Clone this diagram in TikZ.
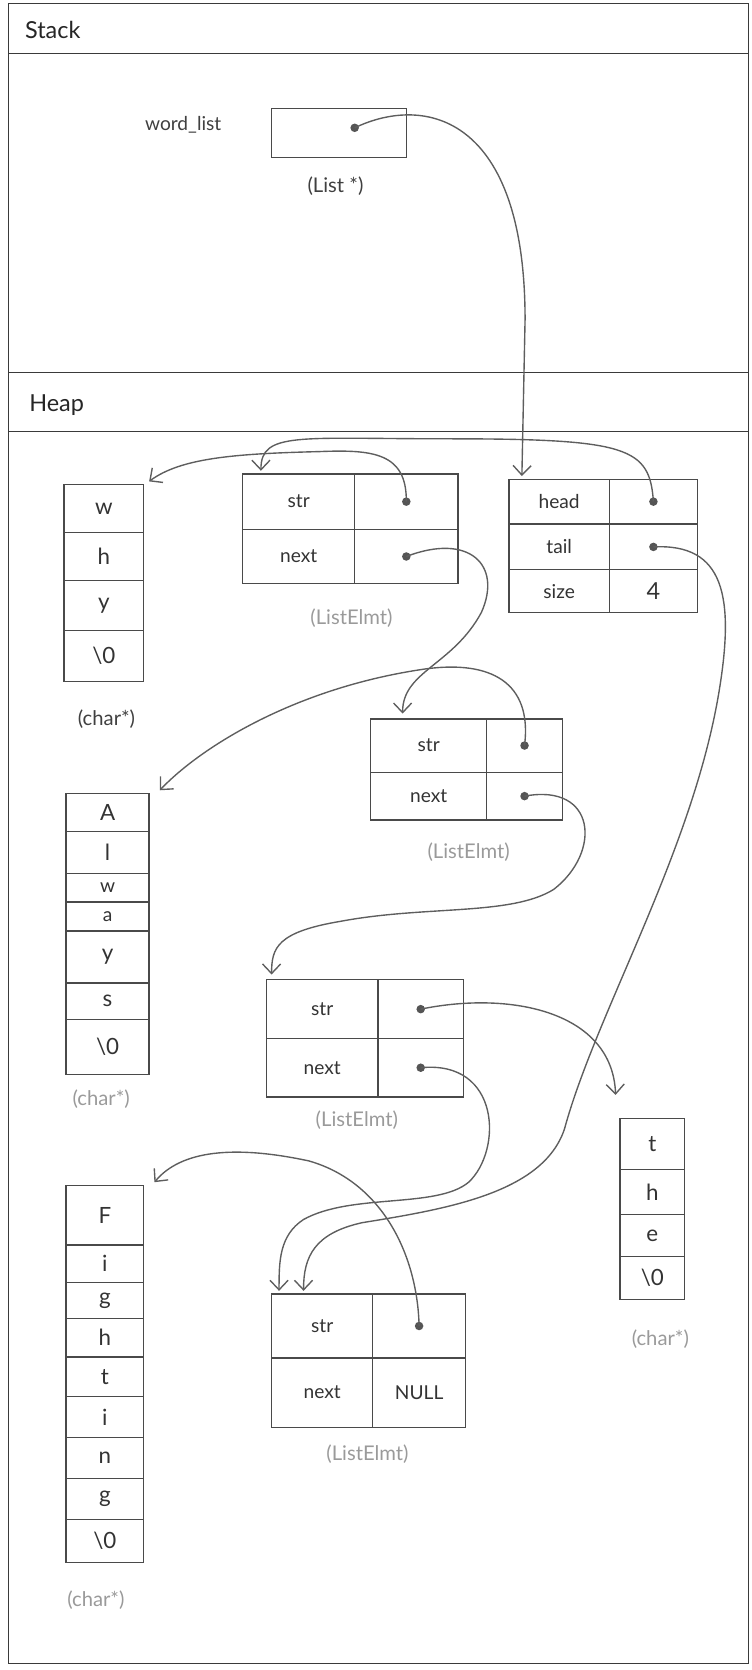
\documentclass[tikz,border=0pt]{standalone}
\usepackage{fontspec}
\setmainfont{Lato}
\usetikzlibrary{arrows.meta,calc}
\definecolor{linecol}{HTML}{4A4A4A}
\definecolor{framecol}{HTML}{3A3A3A}
\definecolor{arrcol}{HTML}{5E5E5E}
\definecolor{labcol}{HTML}{9A9A9A}
\definecolor{dotcol}{HTML}{555555}
\tikzset{
  frameline/.style={draw=framecol, line width=1.2pt},
  box/.style={draw=linecol, line width=1.2pt, inner sep=0pt, outer sep=0pt, anchor=north west,
    text=black!80, font=\fontsize{18}{20}\selectfont},
  chr/.style={box, font=\fontsize{21}{23}\selectfont},
  ptr/.style={draw=arrcol, line width=1.3pt, -{Straight Barb[length=9pt,width=17pt,line width=1.3pt]}},
  pdot/.style={circle, fill=dotcol, inner sep=0pt, minimum size=8pt},
  sec/.style={anchor=west, text=black!85, font=\fontsize{22}{24}\selectfont},
  vname/.style={text=black!75, font=\fontsize{18}{20}\selectfont},
  typ/.style={text=labcol, font=\fontsize{19}{21}\selectfont},
  typdark/.style={text=black!75, font=\fontsize{19}{21}\selectfont},
}
\begin{document}
\begin{tikzpicture}[x=1pt,y=-1pt]
\useasboundingbox (0,0) rectangle (706,1568);
% frame and sections
\draw[frameline] (8,3) rectangle (703,1562);
\draw[frameline] (8,50) -- (703,50);
\draw[frameline] (8,350) -- (703,350);
\draw[frameline] (8,405) -- (703,405);
\node[sec] (stk) at (20,28) {Stack};
\node[sec] (hp) at (24,380) {Heap};

% stack variable
\node[vname] (wlname) at (172,117) {word\_list};
\node[box, minimum width=127pt, minimum height=46pt] (wl) at (255,102) {};
\node[pdot] (wldot) at (333,120) {};
\node[typdark] (wltype) at (315,175) {(List *)};

% List struct
\node[box, minimum width=94pt, minimum height=42pt] (Lhk) at (478,450) {head};
\node[box, minimum width=83pt, minimum height=42pt] (Lhv) at (572,450) {};
\node[box, minimum width=94pt, minimum height=43pt] (Ltk) at (478,492) {tail};
\node[box, minimum width=83pt, minimum height=43pt] (Ltv) at (572,492) {};
\node[box, minimum width=94pt, minimum height=40pt] (Lsk) at (478,535) {size};
\node[box, minimum width=83pt, minimum height=40pt, font=\fontsize{22}{24}\selectfont] (Lsv) at (572,535) {4};
\node[pdot] (Lhdot) at (Lhv.center) {};
\node[pdot] (Ltdot) at (Ltv.center) {};

% ListElmt 1
\node[box, minimum width=105pt, minimum height=52pt] (E1sk) at (228,445) {str};
\node[box, minimum width=97pt, minimum height=52pt] (E1sv) at (333,445) {};
\node[box, minimum width=105pt, minimum height=51pt] (E1nk) at (228,497) {next};
\node[box, minimum width=97pt, minimum height=51pt] (E1nv) at (333,497) {};
\node[pdot] (E1sdot) at (E1sv.center) {};
\node[pdot] (E1ndot) at (E1nv.center) {};
\node[typ] (E1t) at (330,580) {(ListElmt)};

% ListElmt 2
\node[box, minimum width=109pt, minimum height=50pt] (E2sk) at (348,675) {str};
\node[box, minimum width=71pt, minimum height=50pt] (E2sv) at (457,675) {};
\node[box, minimum width=109pt, minimum height=45pt] (E2nk) at (348,725) {next};
\node[box, minimum width=71pt, minimum height=45pt] (E2nv) at (457,725) {};
\node[pdot] (E2sdot) at (E2sv.center) {};
\node[pdot] (E2ndot) at (E2nv.center) {};
\node[typ] (E2t) at (440,800) {(ListElmt)};

% ListElmt 3
\node[box, minimum width=105pt, minimum height=55pt] (E3sk) at (250,920) {str};
\node[box, minimum width=80pt, minimum height=55pt] (E3sv) at (355,920) {};
\node[box, minimum width=105pt, minimum height=55pt] (E3nk) at (250,975) {next};
\node[box, minimum width=80pt, minimum height=55pt] (E3nv) at (355,975) {};
\node[pdot] (E3sdot) at (E3sv.center) {};
\node[pdot] (E3ndot) at (E3nv.center) {};
\node[typ] (E3t) at (335,1052) {(ListElmt)};

% ListElmt 4
\node[box, minimum width=95pt, minimum height=60pt] (E4sk) at (255,1215) {str};
\node[box, minimum width=87pt, minimum height=60pt] (E4sv) at (350,1215) {};
\node[box, minimum width=95pt, minimum height=65pt] (E4nk) at (255,1275) {next};
\node[box, minimum width=87pt, minimum height=65pt] (E4nv) at (350,1275) {NULL};
\node[pdot] (E4sdot) at (E4sv.center) {};
\node[typ] (E4t) at (345,1365) {(ListElmt)};

% char array "why"
\node[chr, minimum width=75pt, minimum height=45pt] (W0) at (60,455) {w};
\node[chr, minimum width=75pt, minimum height=45pt] (W1) at (60,500) {h};
\node[chr, minimum width=75pt, minimum height=47pt] (W2) at (60,545) {y};
\node[chr, minimum width=75pt, minimum height=48pt] (W3) at (60,592) {\textbackslash 0};
\node[typdark] (Wt) at (100,675) {(char*)};

% char array "Always"
\node[chr, minimum width=78pt, minimum height=36pt] (A0) at (62,745) {A};
\node[chr, minimum width=78pt, minimum height=39pt] (A1) at (62,781) {l};
\node[box, minimum width=78pt, minimum height=27pt] (A2) at (62,820) {w};
\node[box, minimum width=78pt, minimum height=27pt] (A3) at (62,847) {a};
\node[chr, minimum width=78pt, minimum height=49pt] (A4) at (62,874) {y};
\node[chr, minimum width=78pt, minimum height=34pt] (A5) at (62,923) {s};
\node[chr, minimum width=78pt, minimum height=52pt] (A6) at (62,957) {\textbackslash 0};
\node[typ] (At) at (95,1032) {(char*)};

% char array "the"
\node[chr, minimum width=61pt, minimum height=48pt] (T0) at (582,1050) {t};
\node[chr, minimum width=61pt, minimum height=42pt] (T1) at (582,1098) {h};
\node[chr, minimum width=61pt, minimum height=40pt] (T2) at (582,1140) {e};
\node[chr, minimum width=61pt, minimum height=40pt] (T3) at (582,1180) {\textbackslash 0};
\node[typ] (Tt) at (620,1257) {(char*)};

% char array "Fighting"
\node[chr, minimum width=73pt, minimum height=56pt] (F0) at (62,1113) {F};
\node[chr, minimum width=73pt, minimum height=35pt] (F1) at (62,1169) {i};
\node[chr, minimum width=73pt, minimum height=34pt] (F2) at (62,1204) {g};
\node[chr, minimum width=73pt, minimum height=36pt] (F3) at (62,1238) {h};
\node[chr, minimum width=73pt, minimum height=37pt] (F4) at (62,1274) {t};
\node[chr, minimum width=73pt, minimum height=39pt] (F5) at (62,1311) {i};
\node[chr, minimum width=73pt, minimum height=38pt] (F6) at (62,1350) {n};
\node[chr, minimum width=73pt, minimum height=39pt] (F7) at (62,1388) {g};
\node[chr, minimum width=73pt, minimum height=40pt] (F8) at (62,1427) {\textbackslash 0};
\node[typ] (Ft) at (90,1502) {(char*)};

% pointers
\draw[ptr] (wldot.center) .. controls (400,88) and (493,110) .. (493,300)
  -- ($(Lhk.north west)+(12,-3)$);
\draw[ptr] (Lhdot.center) .. controls (610,420) and (590,412) .. (420,412)
  .. controls (280,412) and (245,405) .. ($(E1sk.north west)+(17,-3)$);
\draw[ptr] (E1sdot.center) .. controls (382,425) and (350,422) .. (300,424)
  .. controls (220,426) and (170,430) .. ($(W0.north east)+(5,-3)$);
\draw[ptr] (E1ndot.center) .. controls (440,500) and (472,530) .. (452,575)
  .. controls (425,625) and (378,630) .. ($(E2sk.north west)+(30,-5)$);
\draw[ptr] (E2sdot.center) .. controls (500,640) and (460,620) .. (400,628)
  .. controls (280,645) and (190,700) .. ($(A0.north east)+(10,-3)$);
\draw[ptr] (E2ndot.center) .. controls (560,735) and (565,800) .. (520,835)
  .. controls (480,860) and (400,850) .. (320,865)
  .. controls (260,875) and (255,890) .. ($(E3sk.north west)+(5,-5)$);
\draw[ptr] (E3sdot.center) .. controls (480,930) and (575,950) .. ($(T0.north west)+(-4,-22)$);
\draw[ptr] (E3ndot.center) .. controls (470,995) and (472,1080) .. (440,1110)
  .. controls (410,1135) and (330,1120) .. (285,1145)
  .. controls (262,1160) and (262,1185) .. ($(E4sk.north west)+(7,-3)$);
\draw[ptr] (Ltdot.center) .. controls (680,510) and (690,560) .. (675,650)
  .. controls (650,800) and (560,950) .. (530,1060)
  .. controls (510,1120) and (420,1135) .. (340,1148)
  .. controls (295,1158) and (285,1180) .. ($(E4sk.north west)+(30,-3)$);
\draw[ptr] (E4sdot.center) .. controls (392,1180) and (360,1110) .. (290,1090)
  .. controls (220,1075) and (170,1080) .. ($(F0.north east)+(10,-3)$);
\end{tikzpicture}
\end{document}
